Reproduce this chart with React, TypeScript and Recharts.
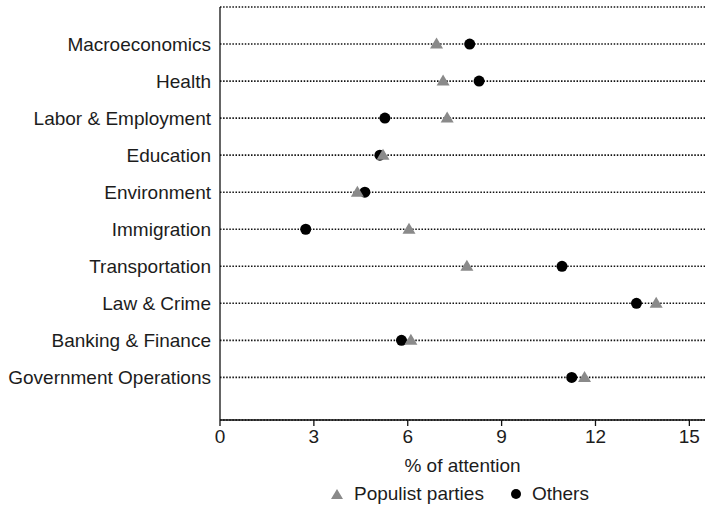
import React from "react"
import {
  ScatterChart,
  Scatter,
  XAxis,
  YAxis,
  CartesianGrid,
} from "recharts"

// topics, top to bottom
const topics = [
  "Macroeconomics",
  "Health",
  "Labor & Employment",
  "Education",
  "Environment",
  "Immigration",
  "Transportation",
  "Law & Crime",
  "Banking & Finance",
  "Government Operations",
]

const populistShare = [6.92, 7.13, 7.26, 5.21, 4.39, 6.04, 7.89, 13.94, 6.1, 11.65]
const othersShare = [7.98, 8.28, 5.27, 5.11, 4.63, 2.74, 10.93, 13.31, 5.8, 11.24]

const xTicks = [0, 3, 6, 9, 12, 15]
const rowTicks = topics.map((_, i) => i + 1)

const FONT = "'Liberation Sans', Arial, Helvetica, sans-serif"
const TEXT = "#1c1c1c"
const GREY = "#8a8a8a"
const FS = 19

const populistData = topics.map((t, i) => ({ topic: t, x: populistShare[i], y: i + 1 }))
const othersData = topics.map((t, i) => ({ topic: t, x: othersShare[i], y: i + 1 }))

function Triangle(props: any) {
  const { cx, cy } = props
  if (cx == null || cy == null) return null
  const d = `M${cx},${cy - 6.5} L${cx + 6.5},${cy + 4.5} L${cx - 6.5},${cy + 4.5} Z`
  return <path d={d} fill={GREY} />
}

function Dot(props: any) {
  const { cx, cy } = props
  if (cx == null || cy == null) return null
  return <circle cx={cx} cy={cy} r={5.5} fill="#000" />
}

function LegendRow() {
  return (
    <div
      style={{
        position: "absolute",
        top: 483,
        left: 330,
        display: "flex",
        alignItems: "center",
        fontFamily: FONT,
        fontSize: FS,
        color: TEXT,
        whiteSpace: "nowrap",
      }}
    >
      <svg width={14} height={12} style={{ marginRight: 10 }}>
        <path d="M7,1 L13,11 L1,11 Z" fill={GREY} />
      </svg>
      <span>Populist parties</span>
      <svg width={12} height={12} style={{ marginLeft: 26, marginRight: 10 }}>
        <circle cx={6} cy={6} r={5} fill="#000" />
      </svg>
      <span>Others</span>
    </div>
  )
}

export default function App() {
  return (
    <div style={{ position: "absolute", left: 0, top: 0, width: 705, height: 510, background: "#fff" }}>
      <ScatterChart
        width={705}
        height={480}
        margin={{ top: 7, right: 0, bottom: 0, left: 0 }}
        style={{ fontFamily: FONT }}
      >
        <CartesianGrid
          horizontal
          vertical={false}
          stroke="#111"
          strokeWidth={1.6}
          strokeDasharray="1.5 1.6"
        />
        <XAxis
          type="number"
          dataKey="x"
          domain={[0, 15.5]}
          ticks={xTicks}
          allowDataOverflow
          height={60}
          tickSize={6}
          tickMargin={4}
          axisLine={{ stroke: "#111", strokeWidth: 1.3 }}
          tickLine={{ stroke: "#111", strokeWidth: 1.3 }}
          tick={{ fill: TEXT, fontSize: FS }}
          label={{
            value: "% of attention",
            position: "insideBottom",
            offset: 8,
            fill: TEXT,
            fontSize: FS,
          }}
        />
        <YAxis
          type="number"
          dataKey="y"
          domain={[0, 11.15]}
          reversed
          ticks={rowTicks}
          interval={0}
          width={220}
          tickSize={6}
          tickMargin={3}
          tickLine={false}
          axisLine={{ stroke: "#111", strokeWidth: 1.3 }}
          tick={{ fill: TEXT, fontSize: FS }}
          tickFormatter={(v: number) => topics[v - 1] ?? ""}
        />
        <Scatter
          name="Others"
          data={othersData}
          shape={<Dot />}
          isAnimationActive={false}
        />
        <Scatter
          name="Populist parties"
          data={populistData}
          shape={<Triangle />}
          isAnimationActive={false}
        />
      </ScatterChart>
      <LegendRow />
    </div>
  )
}
